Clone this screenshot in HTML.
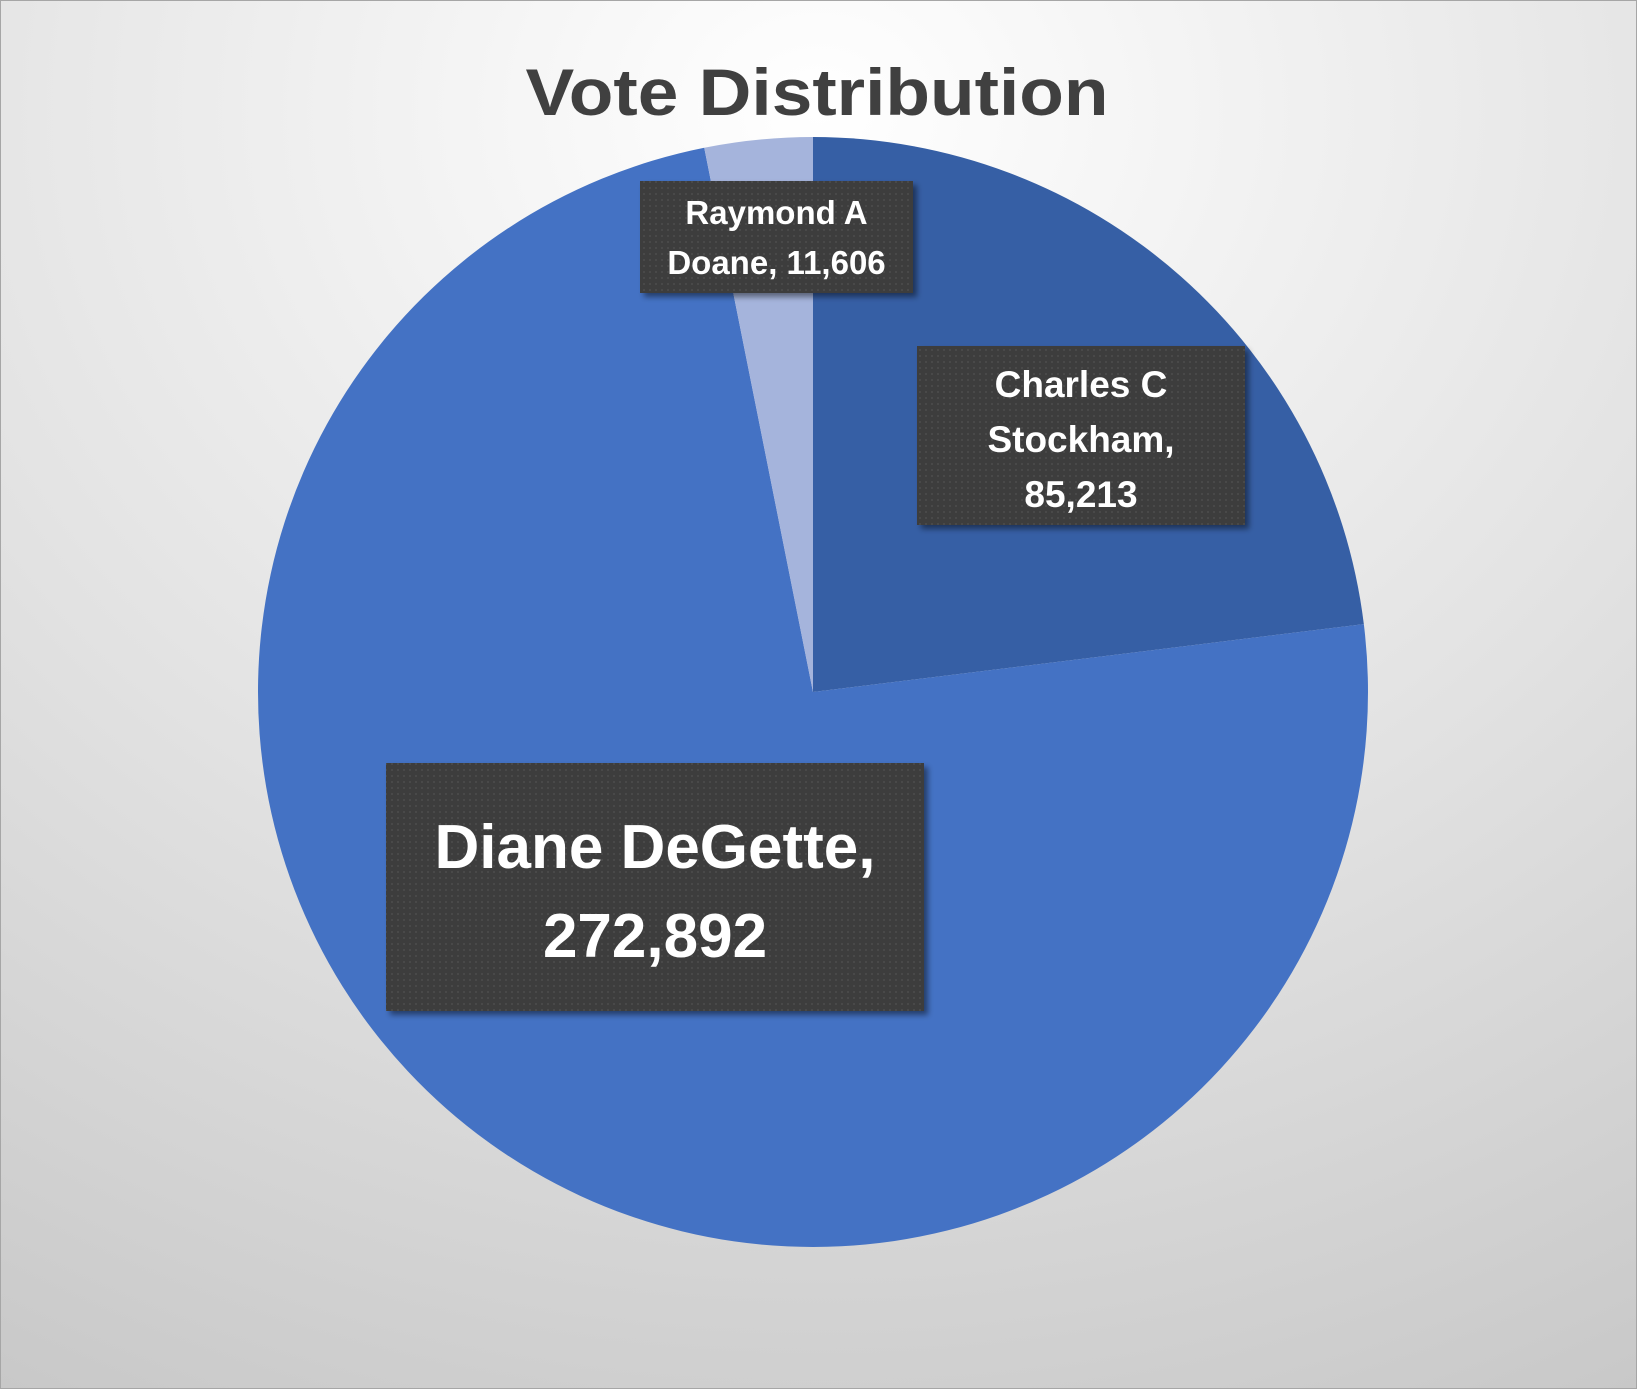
<!DOCTYPE html>
<html><head><meta charset="utf-8"><style>
html,body{margin:0;padding:0;}
body{width:1637px;height:1389px;overflow:hidden;}
svg{display:block;}
</style></head><body>
<svg id="chart" width="1637" height="1389" viewBox="0 0 1637 1389" xmlns="http://www.w3.org/2000/svg">
<defs>
<radialGradient id="bg" cx="0.5" cy="0.08" r="1.05">
<stop offset="0" stop-color="#ffffff"/>
<stop offset="0.55" stop-color="#e2e2e2"/>
<stop offset="1" stop-color="#c8c8c8"/>
</radialGradient>
<pattern id="dots" width="6" height="6" patternUnits="userSpaceOnUse">
<rect width="6" height="6" fill="#3d3d3d"/>
<rect x="1" y="1" width="2" height="2" fill="#4a4a4a"/>
</pattern>
<filter id="sh" x="-10%" y="-10%" width="130%" height="130%">
<feDropShadow dx="4" dy="4" stdDeviation="3" flood-color="#000" flood-opacity="0.45"/>
</filter>
</defs>
<rect x="0.5" y="0.5" width="1636" height="1388" fill="url(#bg)" stroke="#a6a6a6" stroke-width="1"/>
<text x="817" y="115" text-anchor="middle" font-family="Liberation Sans, sans-serif" font-weight="bold" font-size="66" fill="#404040" textLength="583" lengthAdjust="spacingAndGlyphs">Vote Distribution</text>
<g id="slices"></g>
<g id="labels"></g>
</svg>
<script>
const categories = ["Charles C Stockham", "Diane DeGette", "Raymond A Doane"];
const values = [85213, 272892, 11606];
const labelLines = [["Charles C", "Stockham,", "85,213"], ["Diane DeGette,", "272,892"], ["Raymond A", "Doane, 11,606"]];
const colors = ["#365FA5", "#4472C4", "#A5B4DC"];

const cx = 813, cy = 692, r = 555;
const NS = "http://www.w3.org/2000/svg";
const total = values.reduce((a, b) => a + b, 0);
function pt(angle, rad) { return [cx + rad * Math.sin(angle), cy - rad * Math.cos(angle)]; }
const sg = document.getElementById("slices");
let a0 = 0;
values.forEach((v, i) => {
  const a1 = a0 + v / total * Math.PI * 2;
  const p0 = pt(a0, r), p1 = pt(a1, r);
  const large = (a1 - a0) > Math.PI ? 1 : 0;
  const p = document.createElementNS(NS, "path");
  p.setAttribute("d", `M${cx},${cy} L${p0[0]},${p0[1]} A${r},${r} 0 ${large} 1 ${p1[0]},${p1[1]} Z`);
  p.setAttribute("fill", colors[i]);
  
  
  sg.appendChild(p);
  a0 = a1;
});

// label boxes (layout)
const boxes = [
  {x: 917, y: 346, w: 328, h: 179, fs: 37, lh: 55, ty: 397},
  {x: 386, y: 763, w: 538, h: 248, fs: 62, lh: 89, ty: 868},
  {x: 640, y: 181, w: 273, h: 112, fs: 33, lh: 50, ty: 224}
];
const lg = document.getElementById("labels");
boxes.forEach((b, i) => {
  const g = document.createElementNS(NS, "g");
  
  
  const rc = document.createElementNS(NS, "rect");
  rc.setAttribute("x", b.x); rc.setAttribute("y", b.y);
  rc.setAttribute("width", b.w); rc.setAttribute("height", b.h);
  rc.setAttribute("fill", "url(#dots)"); rc.setAttribute("filter", "url(#sh)");
  g.appendChild(rc);
  labelLines[i].forEach((ln, j) => {
    const t = document.createElementNS(NS, "text");
    t.setAttribute("x", b.x + b.w / 2);
    t.setAttribute("y", b.ty + j * b.lh);
    t.setAttribute("text-anchor", "middle");
    t.setAttribute("font-family", "Liberation Sans, sans-serif");
    t.setAttribute("font-weight", "bold");
    t.setAttribute("font-size", b.fs);
    t.setAttribute("fill", "#ffffff");
    t.textContent = ln;
    g.appendChild(t);
  });
  lg.appendChild(g);
});
</script>
</body></html>
